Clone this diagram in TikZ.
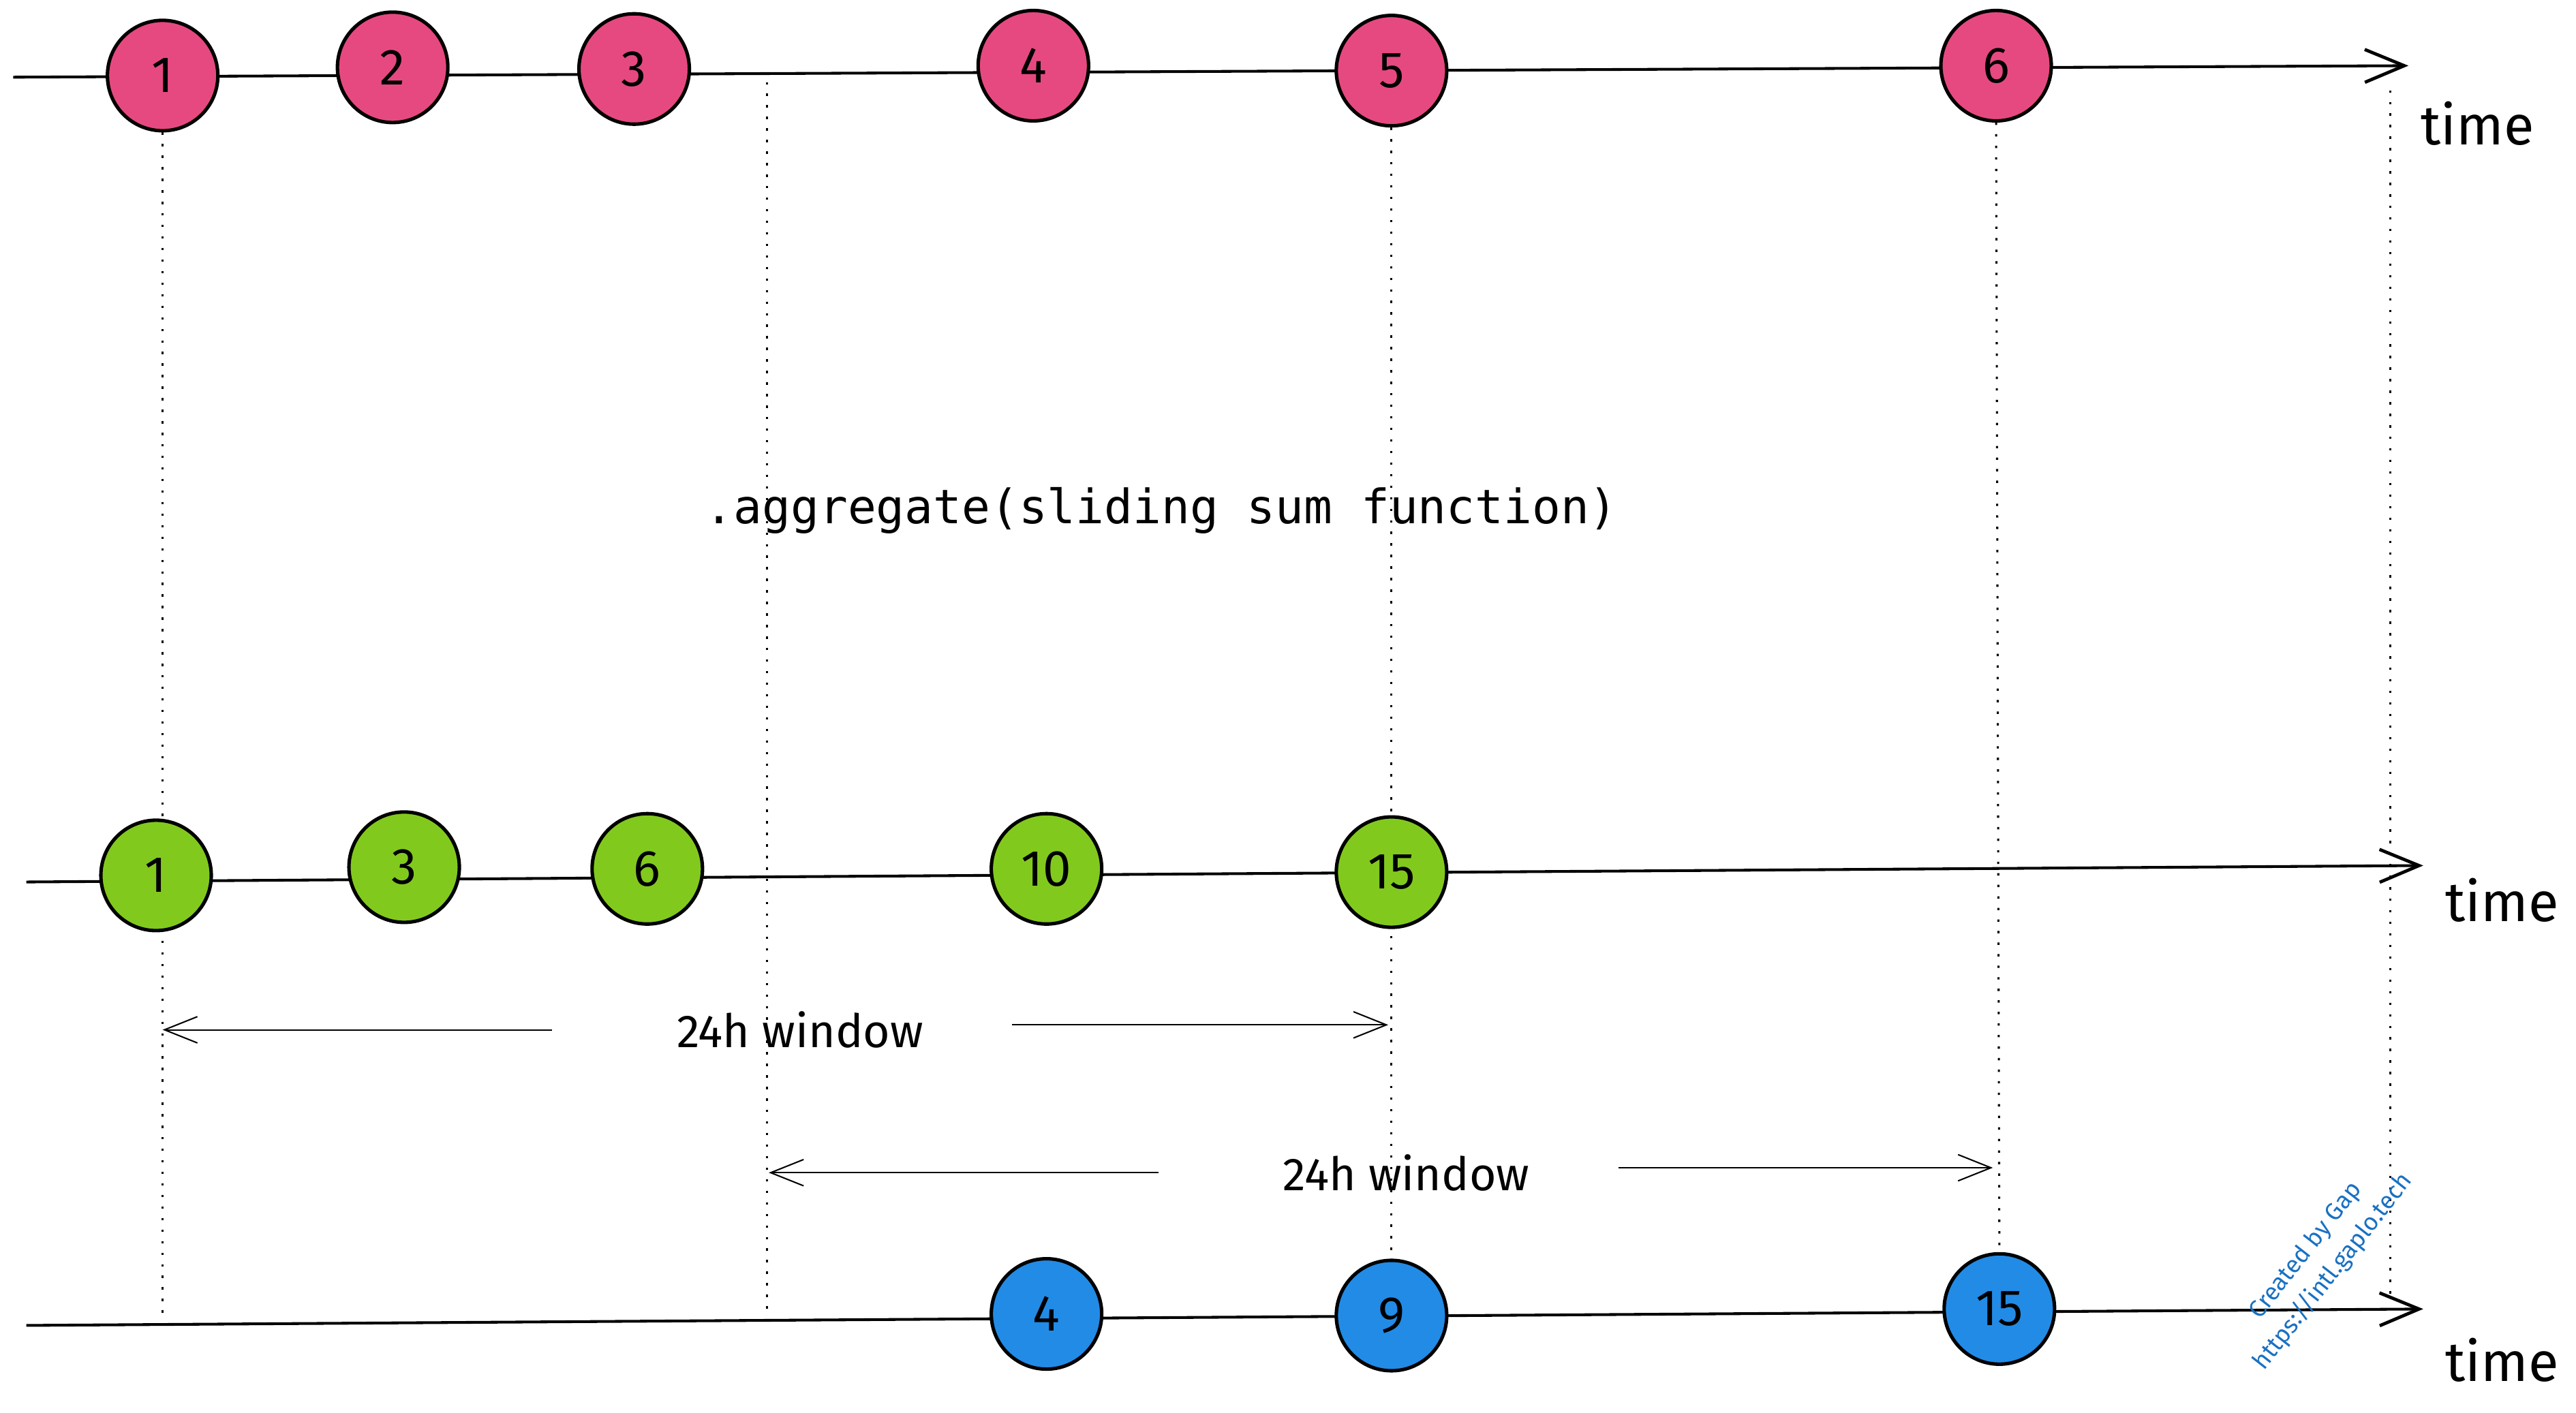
\documentclass[tikz,border=0pt]{standalone}
\usepackage{fontspec}
\setmainfont{Fira Sans}
\setmonofont{DejaVu Sans Mono}
\usetikzlibrary{arrows.meta,backgrounds}

\definecolor{srcpink}{HTML}{E64980}
\definecolor{sumgreen}{HTML}{82C91E}
\definecolor{outblue}{HTML}{228BE6}
\definecolor{markblue}{HTML}{1971C2}

\begin{document}
\begin{tikzpicture}[x=0.025cm, y=-0.025cm,
  event/.style={circle, draw=black, line width=1.5pt, minimum size=1.68cm, inner sep=0pt, font=\fontsize{22}{26}\selectfont},
  timeline/.style={line width=1.2pt, -{Straight Barb[length=6mm,width=5mm,line width=1.4pt]}},
  guide/.style={line width=0.9pt, dash pattern=on 1pt off 4pt},
  span/.style={line width=0.6pt, -{Straight Barb[length=5mm,width=4mm]}},
  timelabel/.style={font=\fontsize{24}{28}\selectfont},
  winlabel/.style={font=\fontsize{20}{24}\selectfont}]
\useasboundingbox (0,0) rectangle (1568,860);
%%%%% Source events %%%%%
\node[event, fill=srcpink] (p1) at (99,46) {1};
\node[event, fill=srcpink] (p2) at (239,41) {2};
\node[event, fill=srcpink] (p3) at (386,42) {3};
\node[event, fill=srcpink] (p4) at (629,40) {4};
\node[event, fill=srcpink] (p5) at (847,43) {5};
\node[event, fill=srcpink] (p6) at (1215,40) {6};
%%%%% Running sums %%%%%
\node[event, fill=sumgreen] (g1) at (95,533) {1};
\node[event, fill=sumgreen] (g3) at (246,528) {3};
\node[event, fill=sumgreen] (g6) at (394,529) {6};
\node[event, fill=sumgreen] (g10) at (637,529) {10};
\node[event, fill=sumgreen] (g15) at (847,531) {15};
%%%%% Sliding sums %%%%%
\node[event, fill=outblue] (b4) at (637,800) {4};
\node[event, fill=outblue] (b9) at (847,801) {9};
\node[event, fill=outblue] (b15) at (1217,797) {15};
%%%%% Labels %%%%%
\node[timelabel] (t1) at (1508,75) {time};
\node[timelabel] (t2) at (1523,548) {time};
\node[timelabel] (t3) at (1523,828) {time};
\node[font=\ttfamily\fontsize{20.5}{24}\selectfont] (op) at (707,311) {.aggregate(sliding sum function)};
\node[winlabel] (w1) at (487,627) {24h window};
\node[winlabel] (w2) at (856,714) {24h window};
\node[text=markblue, font=\fontsize{10.5}{15}\selectfont, rotate=52, align=center] (mark) at (1412,768) {Created by Gap\\https://intl.gaplo.tech};
%%%%% Axis and guides %%%%%
\coordinate (a1) at (8,47);    \coordinate (a1e) at (1466,40);
\coordinate (a2) at (16,537);  \coordinate (a2e) at (1475,527);
\coordinate (a3) at (16,807);  \coordinate (a3e) at (1475,797);
\coordinate (d1) at (99,800);
\coordinate (d2) at (467,50);  \coordinate (d2e) at (467,800);
\coordinate (d5) at (1455,55); \coordinate (d5e) at (1455,790);
\coordinate (w1a) at (336,627); \coordinate (w1b) at (99,627);
\coordinate (w1c) at (616,624); \coordinate (w1d) at (845,624);
\coordinate (w2a) at (705,714); \coordinate (w2b) at (468,714);
\coordinate (w2c) at (985,711); \coordinate (w2d) at (1213,711);
\begin{pgfonlayer}{background}
\draw[timeline] (a1) -- (a1e);
\draw[timeline] (a2) -- (a2e);
\draw[timeline] (a3) -- (a3e);
\draw[guide] (p1.south) -- (d1);
\draw[guide] (d2) -- (d2e);
\draw[guide] (p5.south) -- (b9.north);
\draw[guide] (p6.south) -- (b15.north);
\draw[guide] (d5) -- (d5e);
\end{pgfonlayer}
\draw[span] (w1a) -- (w1b);
\draw[span] (w1c) -- (w1d);
\draw[span] (w2a) -- (w2b);
\draw[span] (w2c) -- (w2d);
\end{tikzpicture}
\end{document}
